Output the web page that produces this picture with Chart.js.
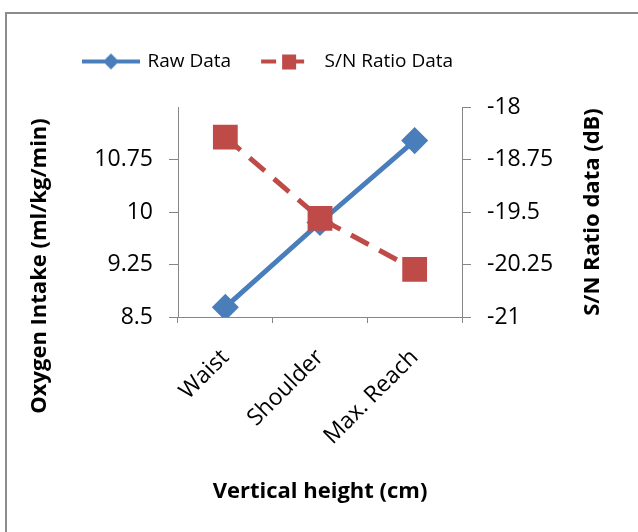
<!DOCTYPE html>
<html>
<head>
<meta charset="utf-8">
<script src="https://cdn.jsdelivr.net/npm/chart.js@4.4.0/dist/chart.umd.min.js"></script>
<style>
	html, body { margin: 0; padding: 0; background: #fff; }
</style>
</head>
<body>
<canvas id="chart" width="638" height="532"></canvas>
<script>
// data
const categories = ['Waist', 'Shoulder', 'Max. Reach'];
const rawData = [8.64, 9.85, 11.02];
const snData = [-18.43, -19.59, -20.32];
const leftTicks = [8.5, 9.25, 10, 10.75];
const rightTicks = [-21, -20.25, -19.5, -18.75, -18];

const blue = '#4A7EBB';
const red = '#BE4B48';
const axisGrey = '#868686';
const font = "'Open Sans'";

// little pictures for the legend: line with marker
const makeLegendIcon = function (kind) {
	const c = document.createElement('canvas');
	c.width = 60;
	c.height = 22;
	const ctx = c.getContext('2d');
	ctx.lineWidth = 4;
	if (kind === 'raw') {
		ctx.strokeStyle = blue;
		ctx.fillStyle = blue;
		ctx.beginPath();
		ctx.moveTo(1, 11);
		ctx.lineTo(59, 11);
		ctx.stroke();
		ctx.beginPath();
		ctx.moveTo(30, 3);
		ctx.lineTo(38, 11);
		ctx.lineTo(30, 19);
		ctx.lineTo(22, 11);
		ctx.closePath();
		ctx.fill();
	} else {
		ctx.strokeStyle = red;
		ctx.fillStyle = red;
		ctx.beginPath();
		ctx.moveTo(3, 11);
		ctx.lineTo(18, 11);
		ctx.moveTo(32, 11);
		ctx.lineTo(46, 11);
		ctx.stroke();
		ctx.fillRect(24, 4, 14, 15);
	}
	return c;
};
const legendIcons = [makeLegendIcon('raw'), makeLegendIcon('sn')];

const drawVerticalTitle = function (ctx, text, x, y) {
	ctx.save();
	ctx.translate(x, y);
	ctx.rotate(-Math.PI / 2);
	ctx.font = `bold 22px ${font}`;
	ctx.fillStyle = '#000';
	ctx.textAlign = 'center';
	ctx.textBaseline = 'middle';
	ctx.fillText(text, 0, 0);
	ctx.restore();
};

const frame = {
	id: 'frame',
	beforeDraw(chart) {
		const ctx = chart.ctx;
		ctx.save();
		ctx.strokeStyle = '#8c8c8c';
		ctx.lineWidth = 2;
		ctx.beginPath();
		ctx.moveTo(5, 13);
		ctx.lineTo(638, 13);
		ctx.moveTo(6, 12);
		ctx.lineTo(6, 532);
		ctx.stroke();
		ctx.restore();
	},
	afterDraw(chart) {
		// both y titles read bottom to top, like the original
		drawVerticalTitle(chart.ctx, 'Oxygen Intake (ml/kg/min)', 40, 266);
		drawVerticalTitle(chart.ctx, 'S/N Ratio data (dB)', 593, 212);
	},
};

// fixed legend height, and legend pushed left like in the original
const legendPlace = {
	id: 'legendPlace',
	beforeInit(chart) {
		const legend = chart.legend;
		if (!legend) return;
		const fit = legend.fit;
		legend.fit = function () {
			fit.call(this);
			this.height = 85;
		};
	},
	afterLayout(chart) {
		if (chart.legend) chart.legend.left = 54;
	},
};

const config = {
	type: 'line',
	data: {
		labels: categories,
		datasets: [
			{
				label: 'Raw Data',
				data: rawData,
				yAxisID: 'y',
				borderColor: blue,
				backgroundColor: blue,
				borderWidth: 5,
				pointStyle: 'rectRot',
				pointRadius: 10,
				pointHoverRadius: 10,
				order: 1,
			},
			{
				label: 'S/N Ratio Data',
				data: snData,
				yAxisID: 'y2',
				borderColor: red,
				backgroundColor: red,
				borderWidth: 5,
				borderDash: [20, 12],
				pointStyle: 'rect',
				pointRadius: 14,
				pointHoverRadius: 14,
				order: 0,
			},
		],
	},
	options: {
		responsive: false,
		animation: false,
		devicePixelRatio: 1,
		layout: {
			padding: { left: 10, right: 30, top: 22, bottom: 23 },
		},
		plugins: {
			legend: {
				position: 'top',
				align: 'start',
				labels: {
					usePointStyle: true,
					pointStyleWidth: 54,
					padding: 30,
					color: '#000',
					font: { family: font, size: 19 },
					generateLabels(chart) {
						return chart.data.datasets.map((ds, i) => ({
							text: ds.label,
							pointStyle: legendIcons[i],
							fillStyle: ds.backgroundColor,
							strokeStyle: ds.borderColor,
							lineWidth: 0,
							hidden: false,
							datasetIndex: i,
						}));
					},
				},
			},
			tooltip: { enabled: false },
		},
		scales: {
			x: {
				offset: true,
				grid: { offset: true, drawOnChartArea: false, tickLength: 6, color: axisGrey },
				border: { color: axisGrey },
				ticks: {
					color: '#000',
					font: { family: font, size: 23 },
					minRotation: 45,
					maxRotation: 45,
					padding: 21,
				},
				title: {
					display: true,
					text: 'Vertical height (cm)',
					color: '#000',
					font: { family: font, size: 22, weight: 'bold' },
				},
				afterFit(scale) {
					scale.height = 192;
				},
			},
			y: {
				position: 'left',
				min: 8.5,
				max: 11.5,
				afterBuildTicks(scale) {
					scale.ticks = leftTicks.map((v) => ({ value: v }));
				},
				grid: { drawOnChartArea: false, tickLength: 9, color: axisGrey },
				border: { color: axisGrey },
				ticks: {
					color: '#000',
					font: { family: font, size: 23 },
					padding: 16,
					callback: (v) => String(v),
				},
				afterFit(scale) {
					scale.width = 168;
				},
			},
			y2: {
				position: 'right',
				min: -21,
				max: -18,
				afterBuildTicks(scale) {
					scale.ticks = rightTicks.map((v) => ({ value: v }));
				},
				grid: { drawOnChartArea: false, tickLength: 9, color: axisGrey },
				border: { color: axisGrey },
				ticks: {
					color: '#000',
					font: { family: font, size: 23 },
					padding: 16,
					callback: (v) => String(v),
				},
				afterFit(scale) {
					scale.width = 146;
				},
			},
		},
	},
	plugins: [frame, legendPlace],
};

const init = function () {
	const ctx = document.querySelector('#chart');
	const myChart = new Chart(ctx, config);
};
document.addEventListener('DOMContentLoaded', init);
</script>
</body>
</html>
